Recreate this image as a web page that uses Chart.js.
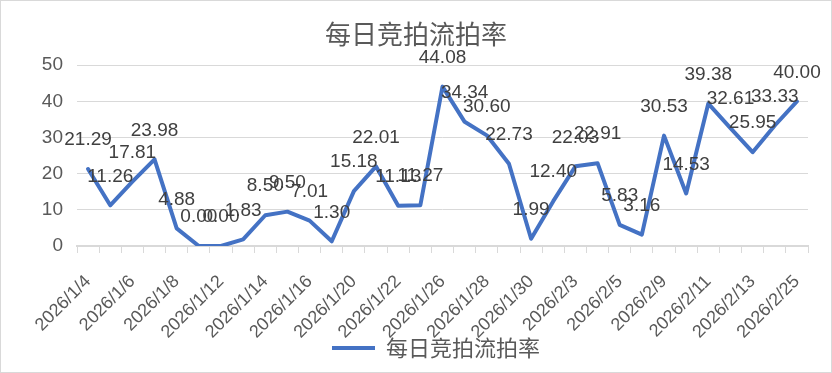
<!DOCTYPE html>
<html>
<head>
<meta charset="utf-8">
<script src="https://cdn.jsdelivr.net/npm/chart.js@4"></script>
<style>
  html, body { margin: 0; padding: 0; background: #fff; }
  #wrap { width: 832px; height: 373px; box-sizing: border-box; border: 1px solid #d9d9d9; }
  canvas { display: block; }
</style>
</head>
<body>
<div id="wrap"><canvas id="rateChart" width="830" height="371"></canvas></div>
<script>
const categories = [
  '2026/1/4', '2026/1/5', '2026/1/6', '2026/1/7', '2026/1/8', '2026/1/9',
  '2026/1/12', '2026/1/13', '2026/1/14', '2026/1/15', '2026/1/16', '2026/1/19',
  '2026/1/20', '2026/1/21', '2026/1/22', '2026/1/23', '2026/1/26', '2026/1/27',
  '2026/1/28', '2026/1/29', '2026/1/30', '2026/2/2', '2026/2/3', '2026/2/4',
  '2026/2/5', '2026/2/6', '2026/2/9', '2026/2/10', '2026/2/11', '2026/2/12',
  '2026/2/13', '2026/2/24', '2026/2/25'
];
const rates = [
  21.29, 11.26, 17.81, 23.98, 4.88, 0.00,
  0.00, 1.83, 8.50, 9.50, 7.01, 1.30,
  15.18, 22.01, 11.13, 11.27, 44.08, 34.34,
  30.60, 22.73, 1.99, 12.40, 22.03, 22.91,
  5.83, 3.16, 30.53, 14.53, 39.38, 32.61,
  25.95, 33.33, 40.00
];
const yTicks = [0, 10, 20, 30, 40, 50];
const seriesName = '每日竞拍流拍率';

const textGray = '#595959';
const gridGray = '#d9d9d9';
const numFont = "'Liberation Sans', Arial, sans-serif";
const cjkFont = "'Noto Sans CJK SC', sans-serif";

// value labels above each point
const pointLabels = {
  id: 'pointLabels',
  afterDatasetsDraw(chart) {
    const ctx = chart.ctx;
    const meta = chart.getDatasetMeta(0);
    ctx.save();
    ctx.font = `19px ${numFont}`;
    ctx.fillStyle = '#404040';
    ctx.textAlign = 'center';
    ctx.textBaseline = 'middle';
    meta.data.forEach((pt, i) => {
      ctx.fillText(rates[i].toFixed(2), pt.x, pt.y - 29);
    });
    ctx.restore();
  }
};

// nudge the legend to the right like the original
const legendShift = {
  id: 'legendShift',
  afterLayout(chart) {
    chart.legend.left += 20;
    chart.legend.right += 20;
  }
};

new Chart(document.getElementById('rateChart'), {
  type: 'line',
  data: {
    labels: categories,
    datasets: [{
      label: seriesName,
      data: rates,
      borderColor: '#4472C4',
      backgroundColor: '#4472C4',
      borderWidth: 4,
      pointRadius: 0,
      tension: 0,
      borderCapStyle: 'round',
      borderJoinStyle: 'round',
    }],
  },
  options: {
    responsive: false,
    animation: false,
    layout: { padding: { left: 0, right: 0, top: 0, bottom: 3 } },
    plugins: {
      title: {
        display: true,
        text: seriesName,
        color: textGray,
        font: { family: cjkFont, size: 26, weight: 'normal' },
        padding: { top: 18, bottom: 15 },
      },
      legend: {
        position: 'bottom',
        labels: {
          usePointStyle: true,
          pointStyle: 'line',
          pointStyleWidth: 43,
          color: textGray,
          font: { family: cjkFont, size: 22 },
          padding: 8,
        },
      },
      tooltip: { enabled: false },
    },
    scales: {
      x: {
        type: 'category',
        offset: true,
        afterFit(scale) {
          scale.height = 83;
          // long rotated labels reach into the legend band, so don't clip them
          scale._computeLabelArea = () => undefined;
        },
        grid: { offset: true, drawOnChartArea: false, drawTicks: true, tickLength: 7, color: gridGray },
        border: { color: gridGray, width: 2 },
        ticks: {
          autoSkip: false,
          minRotation: 45,
          maxRotation: 45,
          padding: 18,
          color: textGray,
          font: { family: numFont, size: 18 },
          callback: (v, i) => (i % 2 === 0 ? categories[i] : ''),
        },
      },
      y: {
        min: yTicks[0],
        max: yTicks[yTicks.length - 1],
        afterFit(scale) { scale.width = 76; },
        afterBuildTicks(scale) { scale.ticks = yTicks.map((v) => ({ value: v })); },
        grid: { color: gridGray, drawTicks: false },
        border: { display: false },
        ticks: { padding: 14, color: textGray, font: { family: numFont, size: 19 } },
      },
      yRight: {
        position: 'right',
        afterFit(scale) { scale.width = 23; },
        grid: { display: false },
        border: { display: false },
        ticks: { display: false },
      },
    },
  },
  plugins: [pointLabels, legendShift],
});
</script>
</body>
</html>
